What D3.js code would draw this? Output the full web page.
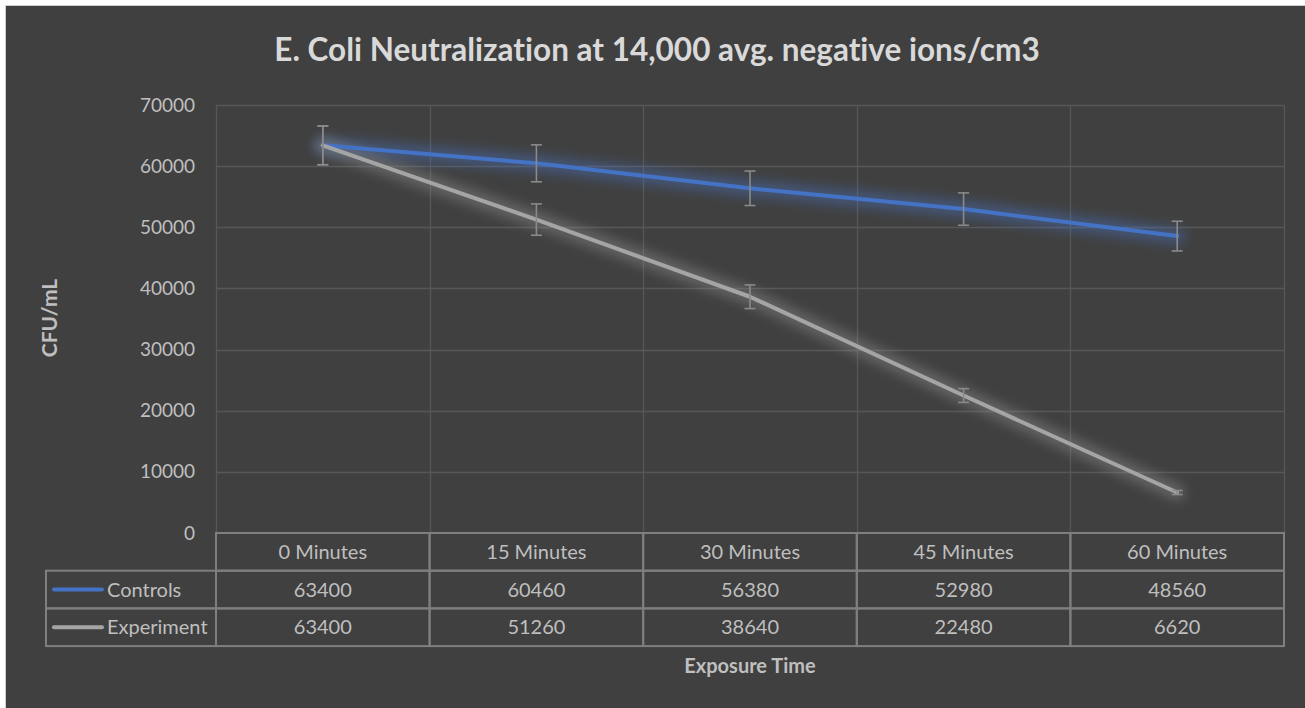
<!DOCTYPE html>
<html>
<head>
<meta charset="utf-8">
<script src="https://cdn.jsdelivr.net/npm/d3@7"></script>
<style>
  body { margin: 0; background: #ffffff; }
  svg { display: block; }
  text { font-family: Lato, "Open Sans", sans-serif; font-variant-ligatures: none; }
</style>
</head>
<body>
<div id="chart"></div>
<script>
// data
var categories = ["0 Minutes", "15 Minutes", "30 Minutes", "45 Minutes", "60 Minutes"];
var controls = [63400, 60460, 56380, 52980, 48560];
var experiment = [63400, 51260, 38640, 22480, 6620];
// error bar half-widths (roughly 5% of each value)
var controlsErr = [3170, 3023, 2819, 2649, 2428];
var experimentErr = [3170, 2563, 1932, 1124, 331];
var yTicks = [0, 10000, 20000, 30000, 40000, 50000, 60000, 70000];

var series = [
  { name: "Controls", values: controls, err: controlsErr, color: "#4472c4", glow: "#4a78d0" },
  { name: "Experiment", values: experiment, err: experimentErr, color: "#a5a5a5", glow: "#9a9a9a" }
];

var width = 1305, height = 708;
var plotLeft = 216, plotRight = 1284, plotTop = 105, plotBottom = 533;
var rowH = 37.7;
var legendLeft = 46;

var svg = d3.select("#chart").append("svg")
  .attr("width", width)
  .attr("height", height);

// chart background with thin border
svg.append("rect")
  .attr("x", 5.5).attr("y", 5.5)
  .attr("width", width).attr("height", height)
  .attr("fill", "#404040")
  .attr("stroke", "#d0d0d0")
  .attr("stroke-width", 1);

var defs = svg.append("defs");
defs.append("filter")
  .attr("id", "glow")
  .attr("x", "-20%").attr("y", "-20%")
  .attr("width", "140%").attr("height", "140%")
  .append("feGaussianBlur")
  .attr("stdDeviation", 6);

var x = d3.scaleBand()
  .domain(categories)
  .range([plotLeft, plotRight])
  .padding(0);

var y = d3.scaleLinear()
  .domain([0, 70000])
  .range([plotBottom, plotTop]);

// title
svg.append("text")
  .attr("x", 657)
  .attr("y", 61)
  .attr("text-anchor", "middle")
  .attr("fill", "#d9d9d9")
  .style("font-size", "31.5px")
  .style("font-weight", "bold")
  .text("E. Coli Neutralization at 14,000 avg. negative ions/cm3");

// horizontal gridlines
svg.append("g")
  .selectAll("line")
  .data(yTicks.filter(function(d) { return d > 0; }))
  .enter()
  .append("line")
  .attr("x1", plotLeft).attr("x2", plotRight)
  .attr("y1", function(d) { return Math.round(y(d)) + 0.5; })
  .attr("y2", function(d) { return Math.round(y(d)) + 0.5; })
  .attr("stroke", "#575757")
  .attr("stroke-width", 1.3);

// vertical gridlines at category boundaries
var bounds = categories.map(function(c) { return x(c); }).concat([plotRight]);
svg.append("g")
  .selectAll("line")
  .data(bounds)
  .enter()
  .append("line")
  .attr("x1", function(d) { return Math.round(d) + 0.5; })
  .attr("x2", function(d) { return Math.round(d) + 0.5; })
  .attr("y1", plotTop).attr("y2", plotBottom)
  .attr("stroke", "#575757")
  .attr("stroke-width", 1.3);

// y axis labels
var yAxis = d3.axisLeft(y)
  .tickValues(yTicks)
  .tickSize(0)
  .tickPadding(0)
  .tickFormat(d3.format("d"));

var yg = svg.append("g")
  .attr("transform", "translate(195,0)")
  .call(yAxis);
yg.select(".domain").remove();
yg.selectAll("text")
  .attr("fill", "#bfbfbf")
  .style("font-size", "19px")
  .style("font-family", "Lato, sans-serif");

// y title
svg.append("text")
  .attr("transform", "translate(57,318) rotate(-90)")
  .attr("text-anchor", "middle")
  .attr("fill", "#bfbfbf")
  .style("font-size", "21px")
  .style("font-weight", "bold")
  .text("CFU/mL");

var cx = function(i) { return x(categories[i]) + x.bandwidth() / 2; };
var line = d3.line()
  .x(function(d, i) { return cx(i); })
  .y(function(d) { return y(d); });

// glow under each line
series.forEach(function(s) {
  svg.append("path")
    .datum(s.values)
    .attr("d", line)
    .attr("fill", "none")
    .attr("stroke", s.glow)
    .attr("stroke-width", 16)
    .attr("stroke-linecap", "round")
    .attr("opacity", 0.4)
    .attr("filter", "url(#glow)");
});

// lines
series.forEach(function(s) {
  svg.append("path")
    .datum(s.values)
    .attr("d", line)
    .attr("fill", "none")
    .attr("stroke", s.color)
    .attr("stroke-width", 4)
    .attr("stroke-linejoin", "round")
    .attr("stroke-linecap", "round");
});

// error bars
series.forEach(function(s) {
  var g = svg.append("g")
    .attr("stroke", "#8a8a8a")
    .attr("stroke-width", 1.6);
  s.values.forEach(function(v, i) {
    var xx = cx(i);
    var hi = y(v + s.err[i]), lo = y(v - s.err[i]);
    g.append("line").attr("x1", xx).attr("x2", xx).attr("y1", hi).attr("y2", lo);
    g.append("line").attr("x1", xx - 5.5).attr("x2", xx + 5.5).attr("y1", hi).attr("y2", hi);
    g.append("line").attr("x1", xx - 5.5).attr("x2", xx + 5.5).attr("y1", lo).attr("y2", lo);
  });
});

// data table
var table = svg.append("g")
  .attr("stroke", "#7f7f7f")
  .attr("stroke-width", 2)
  .attr("fill", "none");

// header row cells
categories.forEach(function(c) {
  table.append("rect")
    .attr("x", x(c)).attr("y", plotBottom)
    .attr("width", x.bandwidth()).attr("height", rowH);
});
// series rows
series.forEach(function(s, r) {
  var ry = plotBottom + rowH * (r + 1);
  table.append("rect")
    .attr("x", legendLeft).attr("y", ry)
    .attr("width", plotLeft - legendLeft).attr("height", rowH);
  categories.forEach(function(c) {
    table.append("rect")
      .attr("x", x(c)).attr("y", ry)
      .attr("width", x.bandwidth()).attr("height", rowH);
  });
});

// header text
svg.append("g")
  .selectAll("text")
  .data(categories)
  .enter()
  .append("text")
  .attr("x", function(d) { return x(d) + x.bandwidth() / 2; })
  .attr("y", plotBottom + rowH / 2 + 7)
  .attr("text-anchor", "middle")
  .attr("fill", "#bfbfbf")
  .style("font-size", "20px")
  .text(function(d) { return d; });

// series values + legend keys
series.forEach(function(s, r) {
  var my = plotBottom + rowH * (r + 1) + rowH / 2;
  svg.append("line")
    .attr("x1", 54).attr("x2", 102)
    .attr("y1", my).attr("y2", my)
    .attr("stroke", s.color)
    .attr("stroke-width", 4)
    .attr("stroke-linecap", "round");
  svg.append("text")
    .attr("x", 107)
    .attr("y", my + 7)
    .attr("fill", "#bfbfbf")
    .style("font-size", "20px")
    .text(s.name);
  svg.append("g")
    .selectAll("text")
    .data(s.values)
    .enter()
    .append("text")
    .attr("x", function(d, i) { return cx(i); })
    .attr("y", my + 7)
    .attr("text-anchor", "middle")
    .attr("fill", "#bfbfbf")
    .style("font-size", "20px")
    .text(function(d) { return d; });
});

// x title
svg.append("text")
  .attr("x", (plotLeft + plotRight) / 2)
  .attr("y", 673)
  .attr("text-anchor", "middle")
  .attr("fill", "#bfbfbf")
  .style("font-size", "20px")
  .style("font-weight", "bold")
  .text("Exposure Time");
</script>
</body>
</html>
